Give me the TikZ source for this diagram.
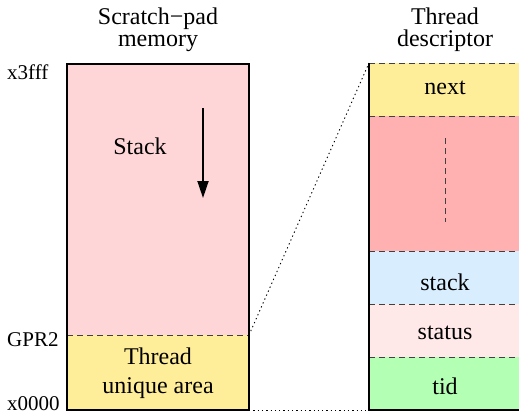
\documentclass[tikz,border=0pt]{standalone}
\usepackage{fontspec}
\setmainfont{Liberation Serif}
\usetikzlibrary{arrows.meta}
\definecolor{spink}{HTML}{FFD6D8}
\definecolor{syellow}{HTML}{FFEE99}
\definecolor{sred}{HTML}{FFB0B0}
\definecolor{sblue}{HTML}{D8EEFF}
\definecolor{sstatus}{HTML}{FFE8E8}
\definecolor{sgreen}{HTML}{B3FFB3}
\definecolor{dashgray}{HTML}{404040}
\tikzset{
  outline/.style={line width=1.8bp, black},
  sep/.style={line width=1bp, dashgray, dash pattern=on 6bp off 4bp},
  link/.style={line width=0.9bp, black, dash pattern=on 1.3bp off 3bp},
  lbl/.style={font=\fontsize{21bp}{22bp}\selectfont, inner sep=0pt},
  big/.style={font=\fontsize{24bp}{22bp}\selectfont, inner sep=0pt, align=center},
  tall/.style={font=\fontsize{24bp}{29bp}\selectfont, inner sep=0pt, align=center},
}
\begin{document}
\begin{tikzpicture}[x=1bp,y=-1bp]
\useasboundingbox (0,0) rectangle (519,415);
% left memory block
\fill[spink] (67,64) rectangle (249,335);
\fill[syellow] (67,335) rectangle (249,410);
\coordinate (gprL) at (67,335);
\coordinate (gprR) at (249,335);
\coordinate (botR) at (249,410);
\draw[sep] (gprL) -- (gprR);
\draw[outline] (67,64) rectangle (249,410);
% right descriptor block
\fill[syellow] (369,63) rectangle (530,116);
\fill[sred] (369,116) rectangle (530,251);
\fill[sblue] (369,251) rectangle (530,304);
\fill[sstatus] (369,304) rectangle (530,357);
\fill[sgreen] (369,357) rectangle (530,410);
\coordinate (dTop) at (369,63);
\coordinate (dBot) at (369,410);
\foreach \yy in {63,116,251,304,357} \draw[sep] (369,\yy) -- (530,\yy);
\draw[outline] (dTop) -- (dBot) -- (530,410);
\draw[sep] (445,138) -- (445,222);
% links
\draw[link] (gprR) -- (dTop);
\draw[link] (botR) -- (dBot);
% stack arrow
\coordinate (aS) at (203,108);
\coordinate (aE) at (203,198);
\draw[line width=1.8bp, -{Triangle[width=11bp,length=17bp]}] (aS) -- (aE);
% texts
\node[big] (t1) at (158,30) {Scratch−pad\\memory};
\node[big] (t2) at (445,30) {Thread\\descriptor};
\node[big] (stk) at (140,146) {Stack};
\node[tall] (tua) at (158,373) {Thread\\unique area};
\node[big] (nx) at (445,88) {next};
\node[big] (st) at (445,282) {stack};
\node[big] (ss) at (445,333) {status};
\node[big] (td) at (445,386) {tid};
\node[lbl, anchor=west] (l1) at (7,72) {x3fff};
\node[lbl, anchor=west] (l2) at (7,340) {GPR2};
\node[lbl, anchor=west] (l3) at (7,404) {x0000};
\end{tikzpicture}
\end{document}
